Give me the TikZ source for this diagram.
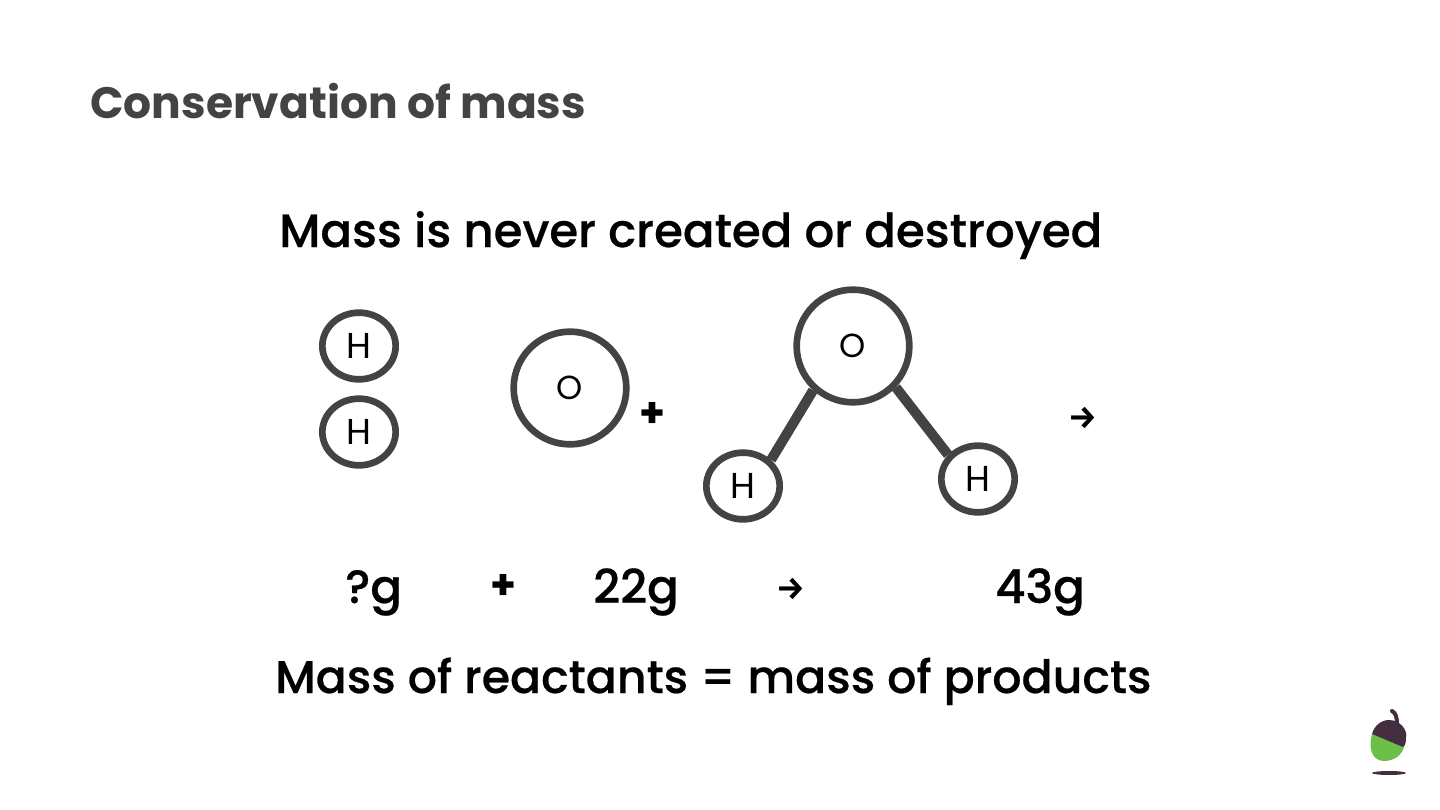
\documentclass[tikz,border=0pt]{standalone}
\usepackage{fontspec}
\setmainfont{Poppins Medium}[BoldFont=Poppins Bold]
\newfontfamily\arrowfont{Fira Sans}
\newfontfamily\atomfont{Poppins}
\newfontfamily\linefont{Poppins Medium}[FakeBold=0.5]
\usetikzlibrary{shapes.geometric}
\definecolor{atomgrey}{HTML}{434343}
\definecolor{acornplum}{HTML}{432D3F}
\definecolor{acorngreen}{HTML}{6CC04A}
\tikzset{
  atomo/.style={draw=atomgrey,line width=5pt,circle,inner sep=0pt,minimum size=84.5pt,font=\fontsize{25}{25}\selectfont\atomfont},
  atomh/.style={draw=atomgrey,line width=5pt,ellipse,inner sep=0pt,minimum width=55pt,minimum height=50pt,font=\fontsize{27}{27}\selectfont\atomfont},
  bond/.style={draw=atomgrey,line width=7.5pt},
  line/.style={anchor=base west,inner sep=0pt,font=\fontsize{35}{35}\selectfont\linefont},
  plus/.style={inner sep=0pt,font=\fontsize{31}{31}\selectfont\bfseries},
  yields/.style={inner sep=0pt,font=\fontsize{24}{24}\selectfont\arrowfont\bfseries}
}
\begin{document}
\begin{tikzpicture}[x=0.75pt,y=-0.75pt]
  \useasboundingbox (0,0) rectangle (1440,810);
  \node[line,text=atomgrey,font=\fontsize{33}{33}\selectfont\bfseries] (title) at (90,118.5) {Conservation of mass};
  \node[line] (never) at (279,247) {Mass is never created or destroyed};
  \node[atomh] (ha) at (359,346) {H};
  \node[atomh] (hb) at (359,432) {H};
  \node[atomo] (oa) at (570,388) {O};
  \node[plus] (plusa) at (652,415) {+};
  \node[atomo] (ob) at (853,346) {O};
  \node[atomh] (hc) at (743,486) {H};
  \node[atomh] (hd) at (978,479) {H};
  \draw[bond] (ob.-132) -- (hc.43);
  \draw[bond] (ob.-44) -- (hd.141);
  \node[yields] (arrowa) at (1083,418) {→};
  \node[line] (qg) at (345,603) {?g};
  \node[plus] (plusb) at (503,587) {+};
  \node[line] (gb) at (593,603) {22g};
  \node[yields] (arrowb) at (791,589) {→};
  \node[line] (gc) at (995,603) {43g};
  \node[line,font=\fontsize{34.4}{35}\selectfont\linefont] (products) at (275,693) {Mass of reactants = mass of products};
  \fill[acorngreen] (1372,734) .. controls (1368,748) and (1372,761) .. (1384,761) .. controls (1394,761) and (1402,755) .. (1404,747) -- cycle;
  \fill[acornplum] (1372,734) .. controls (1374,726) and (1381,720) .. (1389,720) .. controls (1400,720) and (1408,730) .. (1406,738) .. controls (1406,743) and (1405,746) .. (1403,747) -- cycle;
  \draw[acornplum,line width=3pt,line cap=round] (1392,711) .. controls (1396,713) and (1397,718) .. (1397,724);
  \fill[acornplum] (1389,773) ellipse [x radius=17,y radius=2];
\end{tikzpicture}
\end{document}
